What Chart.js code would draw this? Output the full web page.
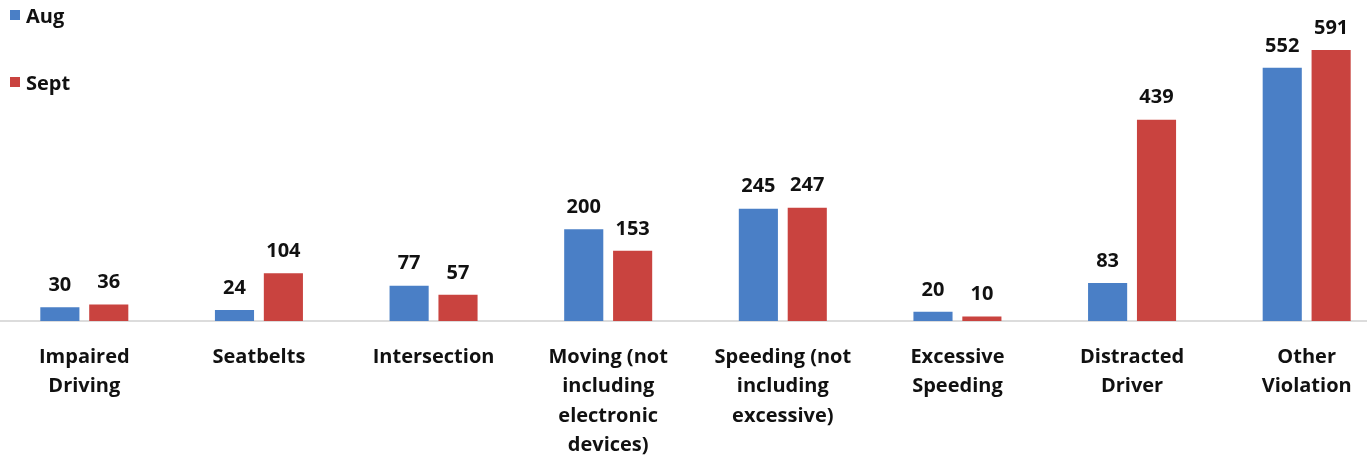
<!DOCTYPE html>
<html>
<head>
    <title>Violations Aug vs Sept</title>
    <script src="https://cdn.jsdelivr.net/npm/chart.js@4.4.1/dist/chart.umd.min.js"></script>
    <style>
        body {
            margin: 0;
            padding: 0;
            background: #ffffff;
            overflow: hidden;
            font-family: "Open Sans", sans-serif;
        }
        .wrap {
            position: relative;
            width: 1397px;
            height: 462px;
            margin-left: -3px;
        }
        .legend {
            position: absolute;
            left: 13px;
            top: 0;
            font-weight: bold;
            font-size: 20px;
            color: #111;
            z-index: 2;
        }
        .legend div {
            position: absolute;
            white-space: nowrap;
        }
        .swatch {
            display: inline-block;
            width: 10px;
            height: 10px;
            margin-right: 6px;
            vertical-align: 3px;
        }
    </style>
</head>
<body>
    <div class="wrap">
        <div class="legend">
            <div style="top:2px"><span class="swatch" style="background:#4a7fc6"></span>Aug</div>
            <div style="top:69px"><span class="swatch" style="background:#c9433f"></span>Sept</div>
        </div>
        <canvas id="chart" width="1397" height="462"></canvas>
    </div>

    <script>
        // Data
        const categories = [
            ['Impaired', 'Driving'],
            ['Seatbelts'],
            ['Intersection'],
            ['Moving (not', 'including', 'electronic', 'devices)'],
            ['Speeding (not', 'including', 'excessive)'],
            ['Excessive', 'Speeding'],
            ['Distracted', 'Driver'],
            ['Other', 'Violation']
        ];
        const augValues = [30, 24, 77, 200, 245, 20, 83, 552];
        const septValues = [36, 104, 57, 153, 247, 10, 439, 591];

        // draw the numbers above each bar
        const valueLabels = {
            id: 'valueLabels',
            afterDatasetsDraw(chart) {
                const ctx = chart.ctx;
                ctx.save();
                ctx.font = 'bold 20px "Open Sans", sans-serif';
                ctx.fillStyle = '#111';
                ctx.textAlign = 'center';
                ctx.textBaseline = 'middle';
                chart.data.datasets.forEach((ds, i) => {
                    chart.getDatasetMeta(i).data.forEach((bar, j) => {
                        ctx.fillText(ds.data[j], bar.x, bar.y - 22);
                    });
                });
                ctx.restore();
            }
        };

        const ctx = document.getElementById('chart').getContext('2d');
        new Chart(ctx, {
            type: 'bar',
            data: {
                labels: categories,
                datasets: [
                    {
                        label: 'Aug',
                        data: augValues,
                        backgroundColor: '#4a7fc6',
                        categoryPercentage: 0.56,
                        barPercentage: 0.8
                    },
                    {
                        label: 'Sept',
                        data: septValues,
                        backgroundColor: '#c9433f',
                        categoryPercentage: 0.56,
                        barPercentage: 0.8
                    }
                ]
            },
            options: {
                responsive: false,
                animation: false,
                layout: { padding: 0 },
                plugins: {
                    legend: { display: false },
                    tooltip: { enabled: false }
                },
                scales: {
                    x: {
                        grid: { display: false, drawTicks: false },
                        border: { display: true, color: '#dcdcdc', width: 2 },
                        ticks: {
                            color: '#111',
                            padding: 21,
                            maxRotation: 0,
                            autoSkip: false,
                            font: { family: '"Open Sans", sans-serif', size: 20, weight: 'bold', lineHeight: 1.48 }
                        },
                        afterFit(scale) {
                            scale.height = 141;
                        }
                    },
                    y: {
                        display: false,
                        min: 0,
                        max: 700
                    }
                }
            },
            plugins: [valueLabels]
        });
    </script>
</body>
</html>
